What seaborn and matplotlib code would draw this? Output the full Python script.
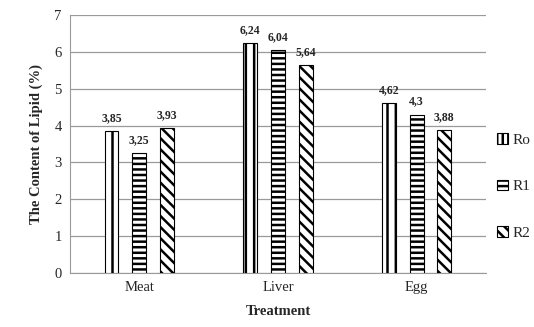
import numpy as np
import pandas as pd
import matplotlib
matplotlib.use("Agg")
import matplotlib.pyplot as plt
import seaborn as sns
from matplotlib.patches import Patch

# Lipid content by treatment
treatments = ["Meat", "Liver", "Egg"]
groups = ["Ro", "R1", "R2"]
ro = [3.85, 6.24, 4.62]
r1 = [3.25, 6.04, 4.30]
r2 = [3.93, 5.64, 3.88]

df = pd.DataFrame({
    "Treatment": treatments * 3,
    "Group": [g for g in groups for _ in treatments],
    "Lipid": ro + r1 + r2,
})

sns.set_style("white")
plt.rcParams["font.family"] = ["Liberation Serif", "DejaVu Serif"]
plt.rcParams["hatch.linewidth"] = 1.8

fig = plt.figure(figsize=(5.34, 3.27), dpi=100)
ax = fig.add_axes([0.131, 0.165, 0.779, 0.789])

sns.barplot(data=df, x="Treatment", y="Lipid", hue="Group", order=treatments,
            hue_order=groups, width=0.6, gap=0.5, color="white",
            edgecolor="black", linewidth=0.8, legend=False, ax=ax, zorder=3)

hatches = ["||", "---", "\\\\\\"]
for cont, h in zip(ax.containers, hatches):
    for bar in cont:
        bar.set_facecolor("white")
        bar.set_hatch(h)
    labels = [f"{v:g}".replace(".", ",") for v in cont.datavalues]
    ax.bar_label(cont, labels=labels, padding=5, fontsize=8.5, fontweight="bold")

ax.set_ylim(0, 7)
ax.set_yticks(range(0, 8))
ax.set_xlim(-0.5, 2.5)
ax.yaxis.grid(True, color="#9a9a9a", linewidth=0.9, zorder=0)
ax.set_axisbelow(True)
for s in ["top", "right"]:
    ax.spines[s].set_visible(False)
ax.spines["left"].set_color("#9a9a9a")
ax.spines["bottom"].set_color("#9a9a9a")
ax.tick_params(axis="both", labelsize=10.5, length=0, pad=6)

ax.set_xlabel("Treatment", fontsize=10.5, fontweight="bold", labelpad=8)
ax.set_ylabel("The Content of Lipid (%)", fontsize=10.5, fontweight="bold", labelpad=8)

handles = [Patch(facecolor="white", edgecolor="black", hatch=h, linewidth=0.8)
           for h in ["|||", "---", "\\\\\\"]]
fig.legend(handles, groups, loc="center left", bbox_to_anchor=(0.905, 0.43),
           frameon=False, fontsize=11, labelspacing=2.15, handlelength=0.7,
           handleheight=0.7, handletextpad=0.3)

fig.savefig("out.png", dpi=100)
